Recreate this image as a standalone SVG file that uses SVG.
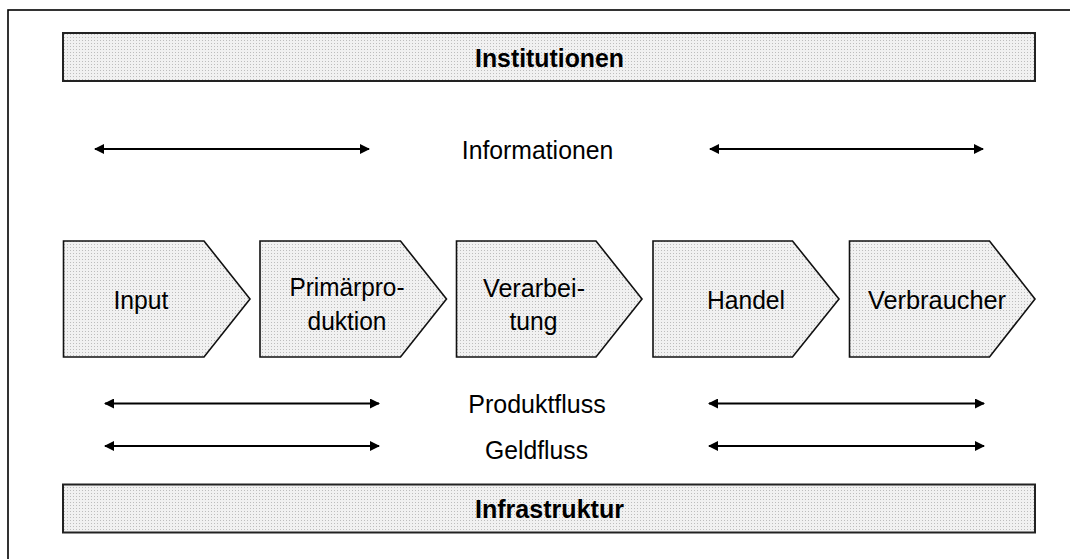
<svg xmlns="http://www.w3.org/2000/svg" width="1070" height="559" viewBox="0 0 1070 559">
  <style>
    .shade { fill: url(#dots); stroke: #111; stroke-width: 1.6; stroke-linejoin: miter; }
    .bar { fill: url(#dots); stroke: #222; stroke-width: 2; }
    .lbl { font-family: "Liberation Sans", Arial, sans-serif; font-size: 26.5px; fill: #000; text-anchor: middle; }
    .bold { font-weight: bold; }
    .flow { stroke: #000; stroke-width: 2.2; fill: none; marker-start: url(#head); marker-end: url(#head); }
  </style>
  <defs>
    <!-- light halftone fill used by bars and process steps -->
    <pattern id="dots" width="3" height="3" patternUnits="userSpaceOnUse">
      <rect width="3" height="3" fill="#f1f1f1"/>
      <rect x="1" y="1" width="1" height="1" fill="#bdbdbd"/>
    </pattern>
    <marker id="head" viewBox="0 0 10 10" refX="9" refY="5" markerWidth="10" markerHeight="10" markerUnits="userSpaceOnUse" orient="auto-start-reverse">
      <path d="M0,0 L10,5 L0,10 Z" fill="#000"/>
    </marker>
  </defs>

  <!-- outer frame -->
  <rect x="8" y="10" width="1080" height="570" fill="#fff" stroke="#000" stroke-width="1.6"/>

  <g id="institutionen">
    <rect class="bar" x="63" y="33" width="972" height="48"/>
    <text class="lbl bold" x="549.5" y="66.5" textLength="149" lengthAdjust="spacingAndGlyphs">Institutionen</text>
  </g>

  <g id="input">
    <polygon class="shade" points="63.5,241 204,241 250,299 204,357 63.5,357"/>
    <text class="lbl" x="141" y="309" textLength="55" lengthAdjust="spacingAndGlyphs">Input</text>
  </g>

  <g id="primaerproduktion">
    <polygon class="shade" points="260,241 400.5,241 446.5,299 400.5,357 260,357"/>
    <text class="lbl" x="347" y="296" textLength="115" lengthAdjust="spacingAndGlyphs">Primärpro-</text>
    <text class="lbl" x="347" y="330" textLength="79" lengthAdjust="spacingAndGlyphs">duktion</text>
  </g>

  <g id="verarbeitung">
    <polygon class="shade" points="456.5,241 596,241 642,299 596,357 456.5,357"/>
    <text class="lbl" x="534" y="297" textLength="102" lengthAdjust="spacingAndGlyphs">Verarbei-</text>
    <text class="lbl" x="533.5" y="330" textLength="48" lengthAdjust="spacingAndGlyphs">tung</text>
  </g>

  <g id="handel">
    <polygon class="shade" points="653,241 792.5,241 839,299 792.5,357 653,357"/>
    <text class="lbl" x="746" y="309" textLength="78" lengthAdjust="spacingAndGlyphs">Handel</text>
  </g>

  <g id="verbraucher">
    <polygon class="shade" points="849.5,241 989.5,241 1035,299 989.5,357 849.5,357"/>
    <text class="lbl" x="937" y="309" textLength="138" lengthAdjust="spacingAndGlyphs">Verbraucher</text>
  </g>

  <g id="infrastruktur">
    <rect class="bar" x="63" y="484.5" width="972" height="48"/>
    <text class="lbl bold" x="549.5" y="517.5" textLength="149" lengthAdjust="spacingAndGlyphs">Infrastruktur</text>
  </g>

  <g id="flow-labels">
    <text class="lbl" x="537.5" y="159" textLength="151.5" lengthAdjust="spacingAndGlyphs">Informationen</text>
    <text class="lbl" x="537" y="413" textLength="137.5" lengthAdjust="spacingAndGlyphs">Produktfluss</text>
    <text class="lbl" x="536.5" y="459" textLength="103" lengthAdjust="spacingAndGlyphs">Geldfluss</text>
  </g>

  <g id="connectors">
    <line class="flow" x1="95" y1="149" x2="369" y2="149"/>
    <line class="flow" x1="710" y1="149" x2="983" y2="149"/>
    <line class="flow" x1="105" y1="403.5" x2="379" y2="403.5"/>
    <line class="flow" x1="709" y1="403.5" x2="984" y2="403.5"/>
    <line class="flow" x1="105" y1="446" x2="379" y2="446"/>
    <line class="flow" x1="709" y1="446" x2="984" y2="446"/>
  </g>
</svg>
